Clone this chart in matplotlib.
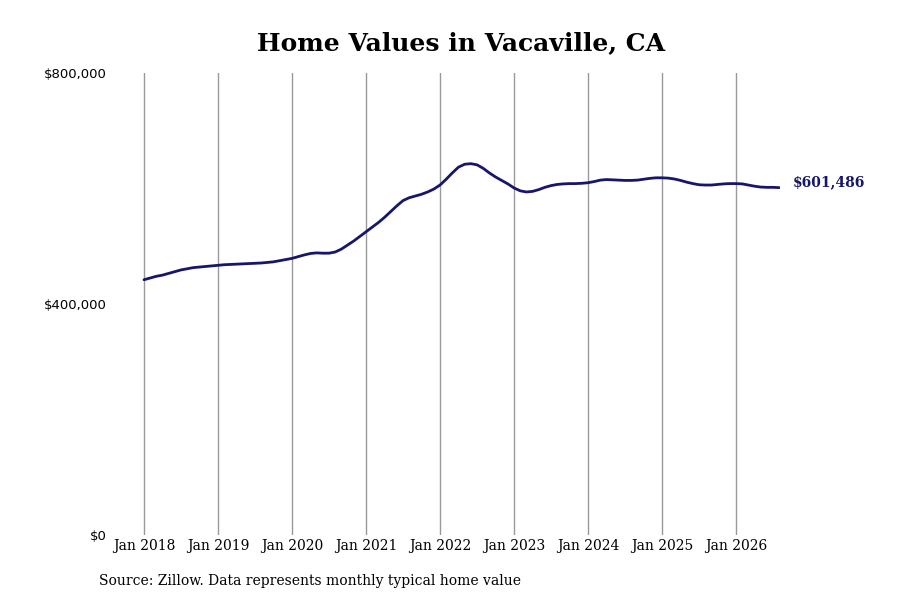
import numpy as np
import matplotlib.pyplot as plt

# Monthly typical home value (thousands of $), Jan 2018 - Aug 2026
values_2018 = [442, 445, 448, 450, 453, 456, 459, 461, 463, 464, 465, 466]
values_2019 = [467, 468, 468.5, 469, 469.5, 470, 470.5, 471, 472, 473, 475, 477]
values_2020 = [479, 482, 485, 487.5, 488.5, 488, 488, 490, 495, 502, 509, 517]
values_2021 = [525, 533, 541, 550, 560, 570, 579, 584, 587, 590, 594, 599]
values_2022 = [606, 616, 627, 637, 642, 643, 641, 635, 627, 620, 614, 608]
values_2023 = [601, 596, 594, 595, 598, 602, 605, 607, 608, 608.5, 608.5, 609]
values_2024 = [610, 612, 614.5, 615.5, 615, 614.5, 614, 614, 614.5, 616, 617.5, 618.5]
values_2025 = [618.5, 618, 616.5, 614, 611, 608.5, 606.5, 606, 606, 607, 608, 608.5]
values_2026 = [608.5, 608, 606, 604, 602.5, 602, 602, 601.486]

years = [2018, 2019, 2020, 2021, 2022, 2023, 2024, 2025, 2026]
tick_labels = ["Jan " + str(y) for y in years]
y_ticks = [0, 400000, 800000]
y_tick_labels = ["$0", "$400,000", "$800,000"]
last_label = "$601,486"

values = np.array(values_2018 + values_2019 + values_2020 + values_2021 + values_2022
                  + values_2023 + values_2024 + values_2025 + values_2026) * 1000
months = 2018 + np.arange(len(values)) / 12

navy = "#16166c"

fig = plt.figure(figsize=(9, 6), dpi=100)
ax = fig.add_axes([112 / 900, 65 / 600, (780 - 112) / 900, (535 - 73) / 600])

ax.plot(months, values, color=navy, linewidth=2.0, solid_capstyle="round")
ax.set_ylim(0, 800000)
ax.set_xlim(2018 - 32 / 74, 2018 + (780 - 144) / 74)

ax.set_xticks(years)
ax.set_xticklabels(tick_labels, family="DejaVu Serif", fontsize=10)
ax.set_yticks(y_ticks)
ax.set_yticklabels(y_tick_labels, family="DejaVu Sans", fontsize=9.5)
ax.tick_params(axis="x", length=0, pad=3)
ax.tick_params(axis="y", length=0, pad=4)
ax.grid(axis="x", color="#999999", linewidth=1)
for s in ax.spines.values():
    s.set_visible(False)

ax.annotate(last_label, xy=(months[-1], values[-1]), xytext=(10, 4),
            textcoords="offset points", va="center", ha="left",
            color=navy, fontsize=10, fontweight="bold", family="DejaVu Serif",
            annotation_clip=False)

fig.text(461 / 900, 1 - 43 / 600, "Home Values in Vacaville, CA", ha="center", va="center",
         fontsize=18, fontweight="bold", family="DejaVu Serif")
fig.text(99 / 900, 1 - 581 / 600, "Source: Zillow. Data represents monthly typical home value",
         ha="left", va="center", fontsize=10, family="DejaVu Serif")

fig.savefig("out.png", dpi=100)
